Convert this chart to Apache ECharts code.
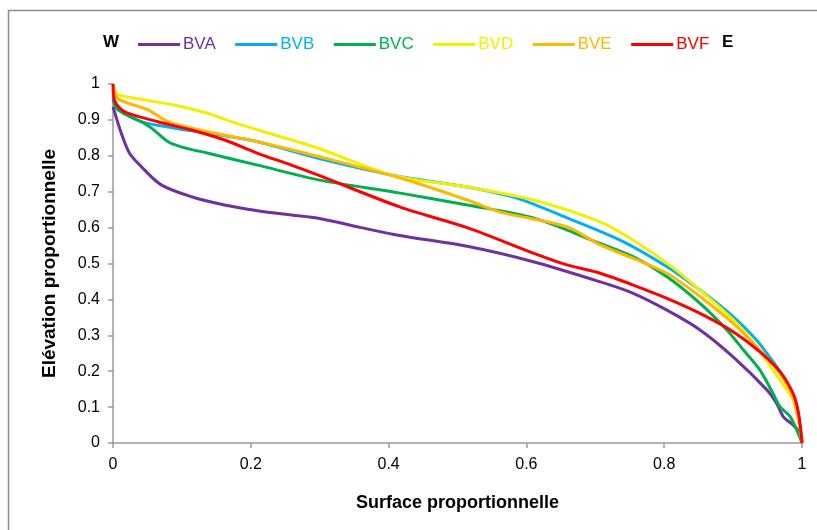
<!DOCTYPE html>
<html>
<head>
<meta charset="utf-8">
<script src="https://cdn.jsdelivr.net/npm/echarts@6/dist/echarts.min.js"></script>
<style>html,body{margin:0;padding:0;background:#fff}#c{width:817px;height:530px}</style>
</head>
<body>
<div id="c"></div>
<script>
const seriesNames = ['BVA', 'BVB', 'BVC', 'BVD', 'BVE', 'BVF'];
const seriesColors = ['#7030A0', '#00B0F0', '#00B050', '#F0F000', '#FFB800', '#FF0000'];
const xTicks = [0, 0.2, 0.4, 0.6, 0.8, 1];
const yTicks = [0, 0.1, 0.2, 0.3, 0.4, 0.5, 0.6, 0.7, 0.8, 0.9, 1];

const bvaX = [0, 0.012, 0.024, 0.041, 0.07, 0.114, 0.162, 0.21, 0.259, 0.298, 0.36, 0.416, 0.514, 0.61, 0.707, 0.755, 0.804, 0.852, 0.9, 0.949, 0.963, 0.973, 0.987, 0.997, 1];
const bvaY = [0.937, 0.863, 0.807, 0.77, 0.719, 0.686, 0.663, 0.647, 0.635, 0.626, 0.60, 0.578, 0.548, 0.505, 0.449, 0.417, 0.37, 0.315, 0.24, 0.148, 0.111, 0.073, 0.05, 0.028, 0];

const bvbX = [0, 0.007, 0.041, 0.09, 0.138, 0.21, 0.298, 0.406, 0.514, 0.586, 0.659, 0.736, 0.804, 0.852, 0.9, 0.934, 0.949, 0.973, 0.987, 0.997, 1];
const bvbY = [0.965, 0.932, 0.895, 0.877, 0.863, 0.839, 0.793, 0.746, 0.713, 0.682, 0.627, 0.565, 0.491, 0.426, 0.352, 0.287, 0.25, 0.185, 0.129, 0.045, 0];

const bvcX = [0, 0.007, 0.041, 0.056, 0.08, 0.099, 0.138, 0.21, 0.298, 0.417, 0.514, 0.61, 0.707, 0.755, 0.804, 0.852, 0.891, 0.915, 0.939, 0.958, 0.968, 0.983, 1];
const bvcY = [0.955, 0.928, 0.895, 0.877, 0.839, 0.825, 0.807, 0.774, 0.733, 0.696, 0.663, 0.627, 0.556, 0.519, 0.463, 0.389, 0.315, 0.259, 0.203, 0.138, 0.101, 0.073, 0];

const bvdX = [0, 0.005, 0.017, 0.09, 0.138, 0.186, 0.235, 0.298, 0.406, 0.514, 0.61, 0.707, 0.755, 0.804, 0.852, 0.9, 0.934, 0.968, 0.987, 0.997, 1];
const bvdY = [1, 0.974, 0.965, 0.941, 0.918, 0.886, 0.858, 0.821, 0.746, 0.713, 0.677, 0.616, 0.565, 0.501, 0.426, 0.343, 0.268, 0.175, 0.12, 0.045, 0];

const bveX = [0, 0.007, 0.031, 0.051, 0.08, 0.138, 0.21, 0.298, 0.417, 0.514, 0.562, 0.659, 0.707, 0.755, 0.804, 0.852, 0.9, 0.939, 0.968, 0.987, 0.997, 1];
const bveY = [1, 0.96, 0.941, 0.928, 0.895, 0.867, 0.839, 0.798, 0.738, 0.677, 0.643, 0.602, 0.552, 0.514, 0.473, 0.408, 0.333, 0.259, 0.194, 0.129, 0.045, 0];

const bvfX = [0, 0.002, 0.01, 0.022, 0.065, 0.114, 0.162, 0.21, 0.259, 0.298, 0.417, 0.514, 0.61, 0.659, 0.707, 0.755, 0.804, 0.852, 0.9, 0.939, 0.968, 0.987, 0.995, 1];
const bvfY = [1, 0.955, 0.932, 0.918, 0.895, 0.872, 0.844, 0.807, 0.774, 0.746, 0.657, 0.60, 0.529, 0.496, 0.473, 0.44, 0.403, 0.361, 0.31, 0.254, 0.199, 0.138, 0.083, 0];

const allX = [bvaX, bvbX, bvcX, bvdX, bveX, bvfX];
const allY = [bvaY, bvbY, bvcY, bvdY, bveY, bvfY];

const FONT = 'Liberation Sans';
const chart = echarts.init(document.getElementById('c'), null, {renderer: 'canvas'});

const series = seriesNames.map((name, i) => ({
  name: name,
  type: 'line',
  data: allX[i].map((x, k) => [x, allY[i][k]]),
  showSymbol: false,
  smooth: 0.3,
  lineStyle: {width: 3, color: seriesColors[i]},
  itemStyle: {color: seriesColors[i]},
  z: 2 + i
}));

chart.setOption({
  animation: false,
  backgroundColor: '#fff',
  grid: {left: 113, right: 15, top: 84, bottom: 87, containLabel: false},
  legend: {
    left: 133, top: 31,
    itemWidth: 42, itemHeight: 3, itemGap: 19.5,
    icon: 'rect',
    textStyle: {fontFamily: FONT, fontSize: 17, padding: [0, 0, 0, -2]},
    data: seriesNames.map((n, i) => ({name: n, textStyle: {color: seriesColors[i]}}))
  },
  graphic: [
    {type: 'rect', shape: {x: 8.5, y: 10.5, width: 840, height: 560}, style: {fill: null, stroke: '#8c8c8c', lineWidth: 1.5}, silent: true},
    {type: 'text', left: 103, top: 34, style: {text: 'W', font: 'bold 17px "Liberation Sans"', fill: '#000'}},
    {type: 'text', left: 722, top: 34, style: {text: 'E', font: 'bold 17px "Liberation Sans"', fill: '#000'}}
  ],
  xAxis: {
    type: 'value', min: 0, max: 1, interval: 0.2,
    name: 'Surface proportionnelle', nameLocation: 'middle', nameGap: 51,
    nameTextStyle: {fontFamily: FONT, fontSize: 18, fontWeight: 'bold', color: '#000'},
    axisLine: {show: true, lineStyle: {color: '#999', width: 1.5}},
    axisTick: {show: true, length: 5, lineStyle: {color: '#999', width: 1.5}},
    axisLabel: {fontFamily: FONT, fontSize: 16, color: '#000', margin: 14,
      formatter: v => xTicks.includes(+v.toFixed(1)) ? String(+v.toFixed(1)) : ''},
    splitLine: {show: false}
  },
  yAxis: {
    type: 'value', min: 0, max: 1, interval: 0.1,
    name: 'Elévation proportionnelle', nameLocation: 'middle', nameGap: 54, nameRotate: 90,
    nameTextStyle: {fontFamily: FONT, fontSize: 19, fontWeight: 'bold', color: '#000'},
    axisLine: {show: true, lineStyle: {color: '#999', width: 1.5}},
    axisTick: {show: true, length: 5, lineStyle: {color: '#999', width: 1.5}},
    axisLabel: {fontFamily: FONT, fontSize: 16, color: '#000', margin: 13,
      formatter: v => yTicks.includes(+v.toFixed(1)) ? String(+v.toFixed(1)) : ''},
    splitLine: {show: false}
  },
  series: series
});
</script>
</body>
</html>
